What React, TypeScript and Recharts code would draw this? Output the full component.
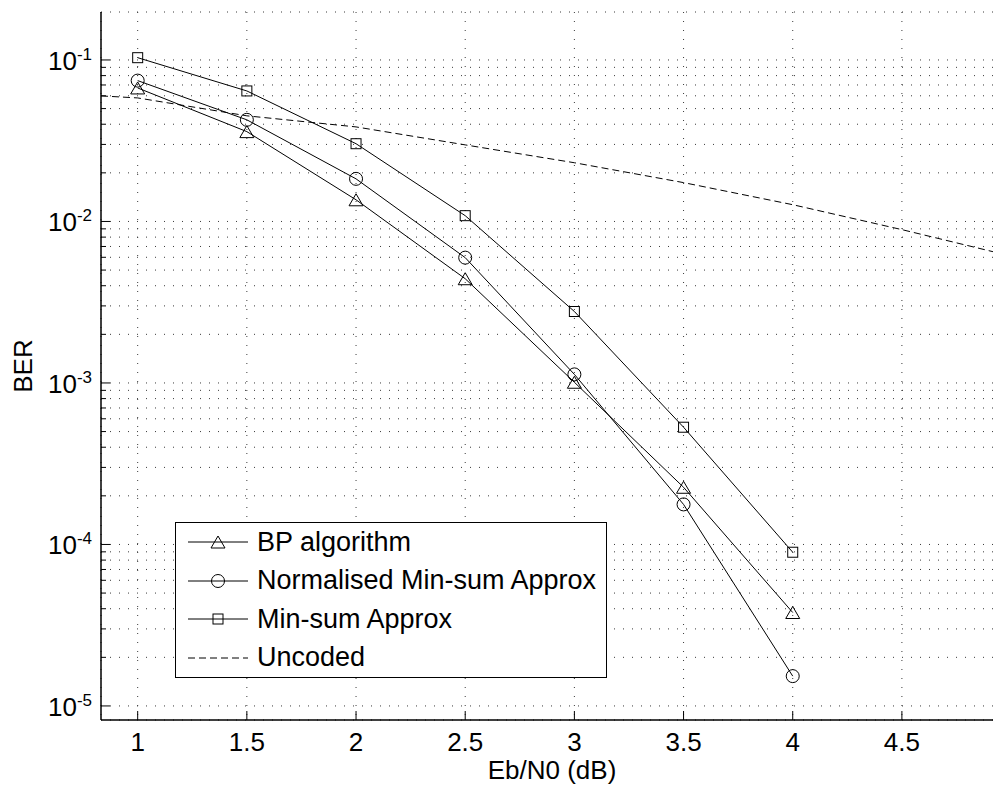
import React from 'react';
import { LineChart, Line, XAxis, YAxis, CartesianGrid, Legend, Label } from 'recharts';

const FONT = '"Liberation Sans", Arial, Helvetica, sans-serif';

// Eb/N0 (dB) for the coded curves
const ebn0 = [1, 1.5, 2, 2.5, 3, 3.5, 4];
// BER values
const berBP = [0.0671, 0.036, 0.01362, 0.00442, 0.00101, 0.000226, 0.0000379];
const berNMS = [0.0745, 0.0426, 0.01836, 0.00597, 0.00113, 0.000177, 0.0000153];
const berMS = [0.1033, 0.0643, 0.0303, 0.01086, 0.00277, 0.000532, 0.0000895];
// Uncoded reference curve
const uncodedX = [0.832, 1, 1.5, 2, 2.5, 3, 3.5, 4, 4.5, 4.917, 4.963];
const uncodedBER = [0.0599, 0.0582, 0.0451, 0.0385, 0.0298, 0.0231, 0.0174, 0.0127, 0.0089, 0.0065, 0.0063];

const xTicks = [1, 1.5, 2, 2.5, 3, 3.5, 4, 4.5];
const xDomain = [0.832, 4.963];
const yMajor = [1e-5, 1e-4, 1e-3, 1e-2, 1e-1];
const yMinorMult = [2, 3, 4, 5, 6, 7, 8, 9];
const yDomain = [Math.pow(10, -5.087), Math.pow(10, -0.703)];
const seriesNames = ['BP algorithm', 'Normalised Min-sum Approx', 'Min-sum Approx', 'Uncoded'];
const xLabel = 'Eb/N0 (dB)';
const yLabel = 'BER';

const yTicks = yMajor
  .flatMap((m) => [m, ...yMinorMult.map((k) => k * m)])
  .filter((v) => v <= yDomain[1]);

const toRows = (xs: number[], ys: number[]) => xs.map((x, i) => ({ x, y: ys[i] }));
const bpData = toRows(ebn0, berBP);
const nmsData = toRows(ebn0, berNMS);
const msData = toRows(ebn0, berMS);
const uncData = toRows(uncodedX, uncodedBER);

const TriangleShape = ({ cx, cy }: { cx: number; cy: number }) => (
  <path d={`M${cx},${cy - 6} L${cx + 7},${cy + 6} L${cx - 7},${cy + 6} Z`} fill="none" stroke="#000" strokeWidth={1} />
);
const CircleShape = ({ cx, cy }: { cx: number; cy: number }) => (
  <circle cx={cx} cy={cy} r={6.5} fill="none" stroke="#000" strokeWidth={1} />
);
const SquareShape = ({ cx, cy }: { cx: number; cy: number }) => (
  <rect x={cx - 5} y={cy - 5} width={10} height={10} fill="none" stroke="#000" strokeWidth={1} />
);

const makeDot = (Shape: any) => (p: any) => {
  if (p.cx == null || p.cy == null) return <g key={p.key ?? p.index} />;
  return <Shape key={p.key ?? p.index} cx={p.cx} cy={p.cy} />;
};

const YTick = (props: any) => {
  const { x, y, payload } = props;
  const lv = Math.log10(payload.value);
  const exp = Math.round(lv);
  const isMajor = Math.abs(lv - exp) < 1e-6;
  return (
    <g>
      <line x1={x} x2={x + (isMajor ? 9 : 5)} y1={y} y2={y} stroke="#000" strokeWidth={1} />
      {isMajor && (
        <text x={x - 9} y={y + 10} textAnchor="end" fontFamily={FONT} fontSize={26} fill="#000">
          10
          <tspan dy={-10} fontSize={17}>{String(exp)}</tspan>
        </text>
      )}
    </g>
  );
};

const XTickBottom = (props: any) => {
  const { x, y, payload } = props;
  return (
    <g>
      <line x1={x} x2={x} y1={y} y2={y - 9} stroke="#000" strokeWidth={1} />
      <text x={x} y={y + 31} textAnchor="middle" fontFamily={FONT} fontSize={26} fill="#000">
        {String(payload.value)}
      </text>
    </g>
  );
};

const XTickTop = (props: any) => {
  const { x, y } = props;
  return <line x1={x} x2={x} y1={y} y2={y + 9} stroke="#000" strokeWidth={1} />;
};

const XLabelContent = (props: any) => {
  const vb = props.viewBox || {};
  return (
    <text x={vb.x + vb.width / 2} y={771} textAnchor="middle" fontFamily={FONT} fontSize={26} fill="#000">
      {xLabel}
    </text>
  );
};

const YLabelContent = (props: any) => {
  const vb = props.viewBox || {};
  const cy = vb.y + vb.height / 2;
  return (
    <text x={24} y={cy} transform={`rotate(-90, 24, ${cy})`} textAnchor="middle" fontFamily={FONT} fontSize={26} fill="#000">
      {yLabel}
    </text>
  );
};

const legendShapes = [TriangleShape, CircleShape, SquareShape, null];

const LegendBox = () => (
  <div
    style={{
      border: '1.5px solid #000',
      background: '#fff',
      fontFamily: FONT,
      fontSize: 27,
      color: '#000',
      paddingRight: 10,
      boxSizing: 'border-box',
    }}
  >
    {seriesNames.map((name, i) => {
      const Shape = legendShapes[i];
      return (
        <div key={name} style={{ display: 'flex', alignItems: 'center', height: 38.5 }}>
          <svg width={60} height={20} style={{ marginLeft: 12, marginRight: 9, overflow: 'visible' }}>
            <line x1={0} x2={60} y1={10} y2={10} stroke="#000" strokeWidth={1} strokeDasharray={Shape ? undefined : '7 4'} />
            {Shape && <Shape cx={30} cy={10} />}
          </svg>
          <span style={{ lineHeight: '27px', whiteSpace: 'nowrap' }}>{name}</span>
        </div>
      );
    })}
  </div>
);

export default function App() {
  return (
    <div style={{ position: 'fixed', left: 8, top: 8, width: 985, height: 780, overflow: 'hidden', background: '#fff' }}>
      <LineChart width={995} height={780} margin={{ top: 4, right: 0, bottom: 0, left: 0 }}>
        <CartesianGrid stroke="#3a3a3a" strokeDasharray="1 8" strokeWidth={1} />
        <XAxis
          dataKey="x"
          type="number"
          domain={xDomain}
          ticks={xTicks}
          allowDataOverflow
          height={68}
          tickSize={0}
          tickMargin={0}
          tick={<XTickBottom />}
          axisLine={{ stroke: '#000', strokeWidth: 1.5 }}
        >
          <Label content={<XLabelContent />} />
        </XAxis>
        <XAxis
          xAxisId="top"
          orientation="top"
          dataKey="x"
          type="number"
          domain={xDomain}
          ticks={xTicks}
          allowDataOverflow
          height={0}
          tickSize={0}
          tickMargin={0}
          tick={<XTickTop />}
          axisLine={{ stroke: '#000', strokeWidth: 1.5 }}
        />
        <YAxis
          dataKey="y"
          scale="log"
          type="number"
          domain={yDomain}
          ticks={yTicks}
          allowDataOverflow
          width={93}
          tickSize={0}
          tickMargin={0}
          tick={<YTick />}
          interval={0}
          axisLine={{ stroke: '#000', strokeWidth: 1.5 }}
        >
          <Label content={<YLabelContent />} />
        </YAxis>
        <Line data={bpData} dataKey="y" name={seriesNames[0]} stroke="#000" strokeWidth={1} dot={makeDot(TriangleShape)} activeDot={false} isAnimationActive={false} />
        <Line data={nmsData} dataKey="y" name={seriesNames[1]} stroke="#000" strokeWidth={1} dot={makeDot(CircleShape)} activeDot={false} isAnimationActive={false} />
        <Line data={msData} dataKey="y" name={seriesNames[2]} stroke="#000" strokeWidth={1} dot={makeDot(SquareShape)} activeDot={false} isAnimationActive={false} />
        <Line data={uncData} dataKey="y" name={seriesNames[3]} stroke="#000" strokeWidth={1} strokeDasharray="7 4" dot={false} activeDot={false} isAnimationActive={false} />
        <Legend
          layout="vertical"
          verticalAlign="middle"
          align="center"
          content={<LegendBox />}
          wrapperStyle={{ position: 'absolute', left: 167, top: 514, width: 'auto', height: 'auto' }}
        />
      </LineChart>
    </div>
  );
}
